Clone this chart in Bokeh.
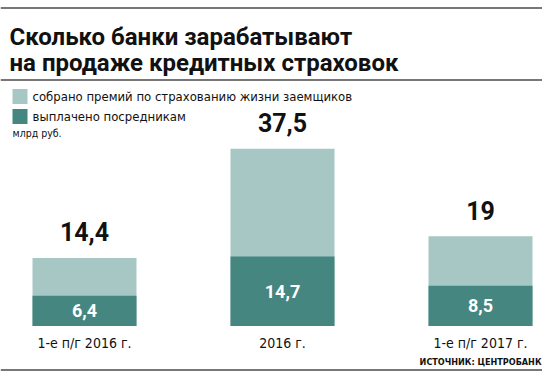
from bokeh.plotting import figure
from bokeh.models import Range1d, Label, Span, ColumnDataSource
from bokeh.embed import file_html
from bokeh.resources import INLINE

# ---- data ----
categories = ["1-е п/г 2016 г.", "2016 г.", "1-е п/г 2017 г."]
premiums = [14.4, 37.5, 19.0]      # собрано премий
paid = [6.4, 14.7, 8.5]            # выплачено посредникам
premium_labels = ["14,4", "37,5", "19"]
paid_labels = ["6,4", "14,7", "8,5"]

title_lines = ["Сколько банки зарабатывают", "на продаже кредитных страховок"]
legend_labels = ["собрано премий по страхованию жизни заемщиков", "выплачено посредникам"]
unit_label = "млрд руб."
source_label = "ИСТОЧНИК: ЦЕНТРОБАНК"

LIGHT = "#a7c7c4"
DARK = "#458780"
LINE = "#777777"
NARROW = "'DejaVu Sans Condensed', 'Roboto Condensed', Roboto"

W, H = 542, 372
PXX = 198.0
PXY = 4.725
X_START = -84 / PXX
Y_START = -(H - 325.5) / PXY

def dx(page_x):
    return X_START + page_x / PXX

def dy(page_y):
    return Y_START + (H - page_y) / PXY

p = figure(width=W, height=H, output_backend="svg", toolbar_location=None,
           x_range=Range1d(X_START, X_START + W / PXX),
           y_range=Range1d(Y_START, Y_START + H / PXY),
           min_border=0, outline_line_color=None)
p.axis.visible = False
p.grid.visible = False
p.background_fill_color = "white"
p.border_fill_color = "white"

idx = list(range(len(categories)))
src = ColumnDataSource(dict(x=idx, cat=categories, prem=premiums, paid=paid,
                            half=[v / 2 for v in paid],
                            plab=premium_labels, dlab=paid_labels,
                            zero=[0] * len(idx)))

bw = 104 / PXX
p.vbar(x="x", bottom="zero", top="prem", width=bw, source=src,
       fill_color=LIGHT, line_color=None)
p.vbar(x="x", bottom="zero", top="paid", width=bw, source=src,
       fill_color=DARK, line_color=None)

p.text(x="x", y="prem", text="plab", source=src, y_offset=-26,
       text_align="center", text_baseline="middle",
       text_font={"value": "Roboto"}, text_font_style="bold",
       text_font_size="25px", text_color="#111111")
p.text(x="x", y="half", text="dlab", source=src,
       text_align="center", text_baseline="middle",
       text_font={"value": "Roboto"}, text_font_style="bold",
       text_font_size="18px", text_color="white")
p.text(x="x", y="zero", text="cat", source=src, y_offset=17,
       text_align="center", text_baseline="middle",
       text_font={"value": NARROW},
       text_font_size="14px", text_color="#111111")

# horizontal rules
for py in [7.5, 79.5, 369.5]:
    p.add_layout(Span(location=dy(py), dimension="width", line_color=LINE, line_width=2))

# title
for txt, base in zip(title_lines, [36.5, 62]):
    p.add_layout(Label(x=dx(9), y=dy(base), text=txt, text_baseline="alphabetic",
                       text_font="Roboto", text_font_style="bold",
                       text_font_size="24px", text_color="#111111"))

# legend
for col, lab, cy in zip([LIGHT, DARK], legend_labels, [96, 116]):
    p.rect(x=[dx(19.5)], y=[dy(cy)], width=15, height=15,
           width_units="screen", height_units="screen",
           fill_color=col, line_color=None)
    p.add_layout(Label(x=dx(32), y=dy(cy), text=lab, text_baseline="middle",
                       text_font=NARROW, text_font_size="13px",
                       text_color="#111111"))

p.add_layout(Label(x=dx(12), y=dy(132), text=unit_label, text_baseline="middle",
                   text_font=NARROW, text_font_size="10.5px",
                   text_color="#111111"))

p.add_layout(Label(x=dx(541), y=dy(361), text=source_label, text_baseline="middle",
                   text_align="right",
                   text_font=NARROW, text_font_style="bold",
                   text_font_size="9px", text_color="#111111"))

open("out.html", "w").write(file_html(p, INLINE))
